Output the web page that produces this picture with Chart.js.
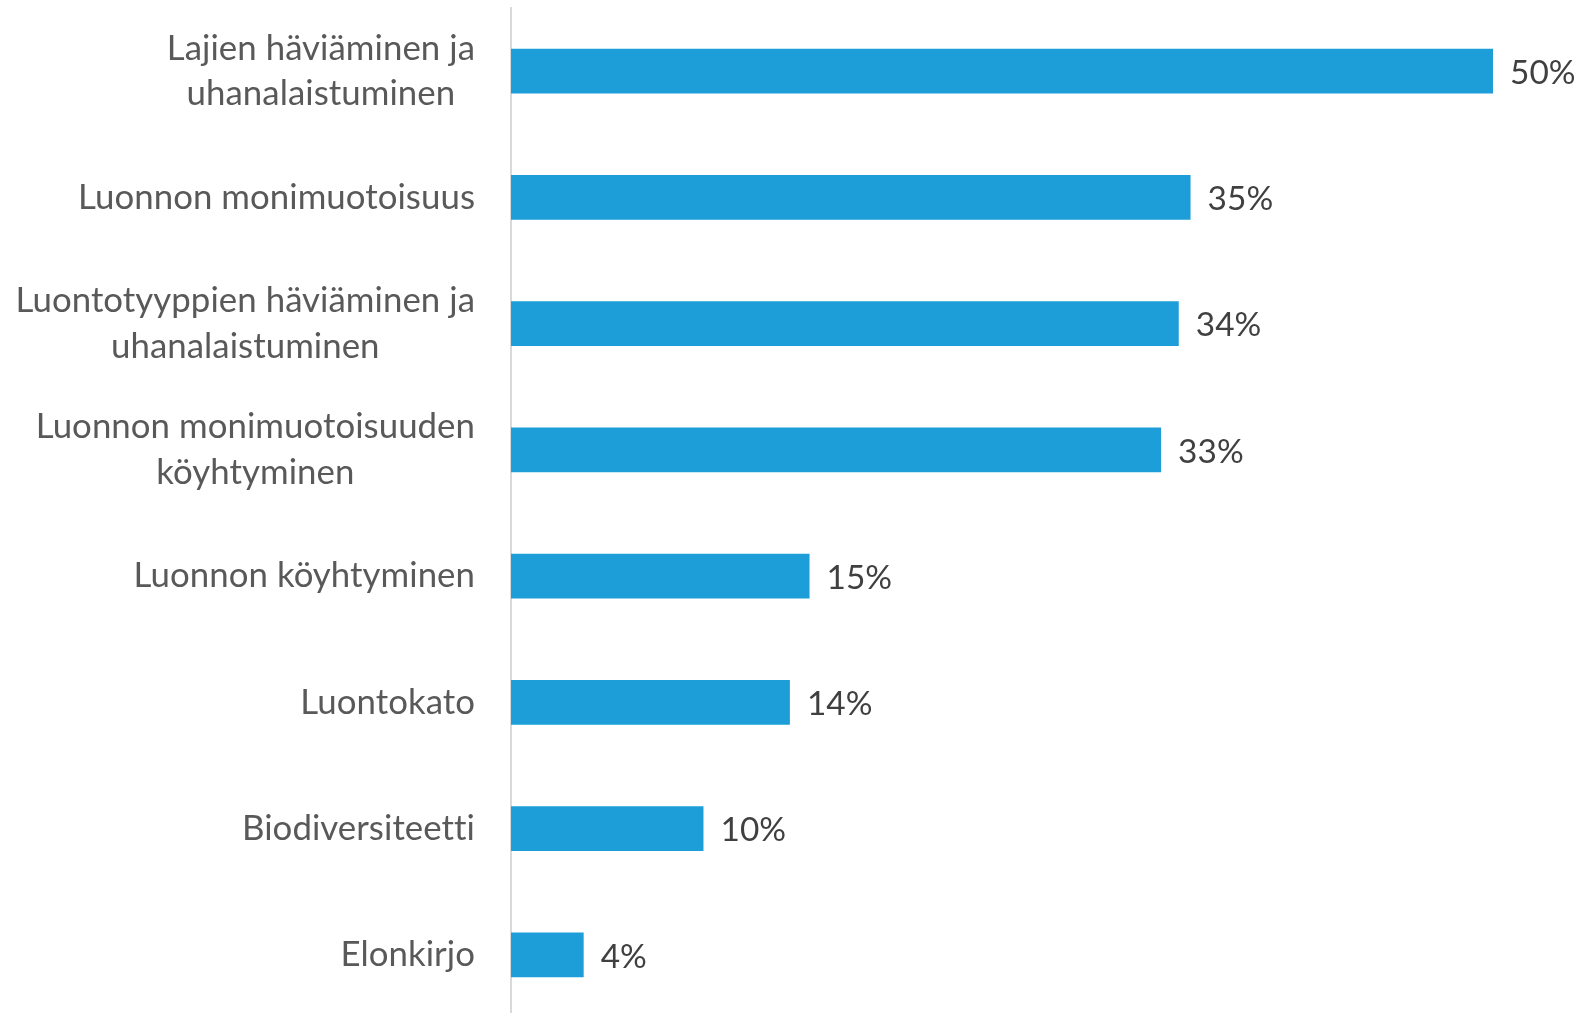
<!DOCTYPE html>
<html><head><meta charset="utf-8">
<script src="https://cdn.jsdelivr.net/npm/chart.js@4"></script>
<style>
html,body{margin:0;padding:0;background:#fff;overflow:hidden;}
#wrap{position:absolute;left:0;top:0;width:1584px;height:1020px;}
</style></head>
<body><div id="wrap"><canvas id="c"></canvas></div>
<script>
const categories = [
  ["Lajien häviäminen ja", "uhanalaistuminen"],
  ["Luonnon monimuotoisuus"],
  ["Luontotyyppien häviäminen ja", "uhanalaistuminen"],
  ["Luonnon monimuotoisuuden", "köyhtyminen"],
  ["Luonnon köyhtyminen"],
  ["Luontokato"],
  ["Biodiversiteetti"],
  ["Elonkirjo"]
];
const values = [50, 34.6, 34, 33.1, 15.2, 14.2, 9.8, 3.7];
const valueLabels = ["50%", "35%", "34%", "33%", "15%", "14%", "10%", "4%"];

const FONT_FAMILY = "Lato, 'Open Sans', sans-serif";
const LS = '0.05px';
const mctx = document.createElement('canvas').getContext('2d');
mctx.font = "100px " + FONT_FAMILY;
const fs = Math.round(100 * 396 / mctx.measureText("Luonnon monimuotoisuus").width * 10) / 10;
const FONT = fs + "px " + FONT_FAMILY;
const VFONT = (Math.round(fs * 0.96 * 10) / 10) + "px " + FONT_FAMILY;
const LINE_H = 45.5;

const labelPlugin = {
  id: 'customLabels',
  afterDatasetsDraw(chart) {
    const ctx = chart.ctx;
    const y = chart.scales.y;
    ctx.save();
    ctx.font = FONT;
    if ('letterSpacing' in ctx) ctx.letterSpacing = LS;
    categories.forEach((lines, i) => {
      const cy = y.getPixelForValue(i);
      const widths = lines.map(l => ctx.measureText(l).width);
      const blockW = Math.max(...widths);
      const rightX = 475;
      const centerX = rightX - blockW / 2;
      ctx.fillStyle = '#595959';
      ctx.textAlign = 'center';
      ctx.textBaseline = 'middle';
      const n = lines.length;
      lines.forEach((l, j) => {
        const ly = cy + (j - (n - 1) / 2) * LINE_H;
        ctx.fillText(l, centerX, ly);
      });
    });
    ctx.font = VFONT;
    const meta = chart.getDatasetMeta(0);
    meta.data.forEach((bar, i) => {
      ctx.fillStyle = '#404040';
      ctx.textAlign = 'left';
      ctx.textBaseline = 'middle';
      ctx.fillText(valueLabels[i], bar.x + 17, bar.y + 2);
    });
    ctx.restore();
  }
};

new Chart(document.getElementById('c'), {
  type: 'bar',
  data: {
    labels: categories,
    datasets: [{
      data: values,
      backgroundColor: '#1E9ED8',
      borderWidth: 0,
      categoryPercentage: 1,
      barPercentage: 0.356
    }]
  },
  options: {
    indexAxis: 'y',
    responsive: true,
    maintainAspectRatio: false,
    animation: false,
    layout: { padding: { top: 8, bottom: 2, left: 0, right: 91 } },
    plugins: { legend: { display: false }, tooltip: { enabled: false } },
    scales: {
      x: { display: false, min: 0, max: 50 },
      y: {
        grid: { display: false, drawTicks: false },
        border: { display: true, color: '#d9d9d9', width: 2 },
        ticks: { display: false },
        afterFit(s) { s.width = 511; }
      }
    }
  },
  plugins: [labelPlugin]
});
</script>
</body></html>
